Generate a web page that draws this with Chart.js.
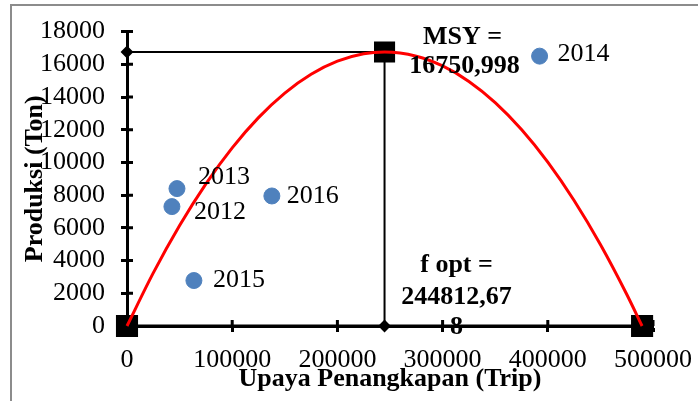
<!DOCTYPE html>
<html>
<head>
<meta charset="utf-8">
<script src="https://cdn.jsdelivr.net/npm/chart.js@4.4.0/dist/chart.umd.min.js"></script>
<style>
  body { margin: 0; background: #fff; }
  #frame { position: absolute; left: 10px; top: 4px; width: 800px; height: 500px; border: 2px solid #8c8c8c; }
  #chart { position: absolute; left: 0; top: 0; }
</style>
</head>
<body>
<div id="frame"></div>
<canvas id="chart" width="698" height="401"></canvas>
<script>
// observed data (year, effort in trips, catch in tons)
const years = ['2012', '2013', '2014', '2015', '2016'];
const effort = [42700, 47500, 392200, 63600, 137700];
const catchTon = [7300, 8400, 16500, 2780, 7950];

// surplus production curve
const curveEffort = [0, 25000, 50000, 75000, 100000, 125000, 150000, 175000, 200000, 225000, 244812.67,
    275000, 300000, 325000, 350000, 375000, 400000, 425000, 450000, 475000, 489625.34];
const curveCatch = [0, 3247, 6144, 8692, 10890, 12739, 14239, 15389, 16190, 16641, 16751,
    16496, 15900, 14954, 13658, 12014, 10020, 7676, 4983, 1941, 0];

const fOpt = 244812.67;
const msy = 16750.998;
const fMax = 489625.34;

const xTicks = [0, 100000, 200000, 300000, 400000, 500000];
const yTicks = [0, 2000, 4000, 6000, 8000, 10000, 12000, 14000, 16000, 18000];

const serif = 'Liberation Serif, Times New Roman, serif';

const labelOffset = {
    '2012': [22, 6],
    '2013': [21, -11],
    '2014': [18, -2],
    '2015': [19, 0],
    '2016': [15, 0]
};

const extras = {
    id: 'extras',
    afterDraw(chart) {
        const ctx = chart.ctx;
        const x = chart.scales.x, y = chart.scales.y;
        const x0 = x.getPixelForValue(0), y0 = y.getPixelForValue(0);
        ctx.save();
        // inner half of the crossing tick marks
        ctx.strokeStyle = '#000';
        ctx.lineWidth = 3;
        ctx.beginPath();
        for (let v of xTicks) {
            if (v === 0) continue;
            let px = x.getPixelForValue(v);
            ctx.moveTo(px, y0);
            ctx.lineTo(px, y0 - 6);
        }
        for (let v of yTicks) {
            if (v === 0) continue;
            let py = y.getPixelForValue(v);
            ctx.moveTo(x0, py);
            ctx.lineTo(x0 + 6, py);
        }
        ctx.stroke();

        // year labels
        ctx.fillStyle = '#000';
        ctx.textBaseline = 'middle';
        ctx.textAlign = 'left';
        ctx.font = '26px ' + serif;
        const meta = chart.getDatasetMeta(3);
        meta.data.forEach((pt, i) => {
            const off = labelOffset[years[i]];
            ctx.fillText(years[i], pt.x + off[0], pt.y + off[1]);
        });

        // MSY and f opt notes
        ctx.textAlign = 'center';
        ctx.font = 'bold 26px ' + serif;
        const fx = x.getPixelForValue(fOpt);
        const my = y.getPixelForValue(msy);
        ctx.fillText('MSY =', fx + 78, my - 15);
        ctx.fillText('16750,998', fx + 80, my + 14);
        ctx.fillText('f opt =', fx + 72, y0 - 61);
        ctx.fillText('244812,67', fx + 72, y0 - 29);
        ctx.fillText('8', fx + 72, y0 + 1);
        ctx.restore();
    }
};

const ctx = document.querySelector('#chart').getContext('2d');
let chart = new Chart(ctx, {
    type: 'scatter',
    data: {
        datasets: [{
            label: 'curve',
            data: curveEffort.map((f, i) => ({x: f, y: curveCatch[i]})),
            showLine: true,
            borderColor: '#ff0000',
            borderWidth: 3,
            pointRadius: 0,
            tension: 0.4,
            cubicInterpolationMode: 'monotone',
            clip: false,
            order: 0
        }, {
            label: 'msy lines',
            data: [{x: 0, y: msy}, {x: fOpt, y: msy}, {x: fOpt, y: 0}],
            showLine: true,
            borderColor: '#000',
            borderWidth: 2,
            backgroundColor: '#000',
            pointStyle: ['rectRot', 'rect', 'rectRot'],
            pointRadius: [5, 13.5, 5],
            clip: false,
            order: 2
        }, {
            label: 'ends',
            data: [{x: 0, y: 0}, {x: fMax, y: 0}],
            showLine: true,
            borderColor: '#000',
            borderWidth: 3,
            backgroundColor: '#000',
            pointStyle: 'rect',
            pointRadius: 13.5,
            clip: false,
            order: 3
        }, {
            label: 'data',
            data: effort.map((f, i) => ({x: f, y: catchTon[i]})),
            backgroundColor: '#4f81bd',
            borderColor: '#4f81bd',
            pointRadius: 8,
            order: 1
        }]
    },
    options: {
        responsive: false,
        animation: false,
        layout: { padding: { left: 0, top: 29, right: 45, bottom: 0 } },
        plugins: {
            legend: { display: false },
            tooltip: { enabled: false }
        },
        scales: {
            x: {
                type: 'linear',
                min: 0,
                max: 500000,
                afterBuildTicks: s => { s.ticks = xTicks.map(v => ({value: v})); },
                afterFit: s => { s.height = 75; s.paddingLeft = 0; s.paddingRight = 0; },
                ticks: {
                    color: '#000',
                    font: { family: serif, size: 26 },
                    padding: 13,
                    maxRotation: 0,
                    autoSkip: false,
                    callback: v => String(v)
                },
                grid: { display: true, drawOnChartArea: false, drawTicks: true, tickLength: 6, tickWidth: 3, tickColor: '#000' },
                border: { display: true, color: '#000', width: 3 },
                title: {
                    display: true,
                    text: 'Upaya Penangkapan (Trip)',
                    color: '#000',
                    font: { family: serif, size: 26, weight: 'bold' },
                    padding: { top: 0, bottom: 6 }
                }
            },
            y: {
                type: 'linear',
                min: 0,
                max: 18000,
                afterBuildTicks: s => { s.ticks = yTicks.map(v => ({value: v})); },
                afterFit: s => { s.width = 127; },
                ticks: {
                    color: '#000',
                    font: { family: serif, size: 26 },
                    padding: 16,
                    autoSkip: false,
                    callback: v => String(v)
                },
                grid: { display: true, drawOnChartArea: false, drawTicks: true, tickLength: 6, tickWidth: 3, tickColor: '#000' },
                border: { display: true, color: '#000', width: 3 },
                title: {
                    display: true,
                    text: 'Produksi (Ton)',
                    color: '#000',
                    font: { family: serif, size: 26, weight: 'bold' },
                    padding: { top: 20, bottom: 0 }
                }
            }
        }
    },
    plugins: [extras]
});
</script>
</body>
</html>
